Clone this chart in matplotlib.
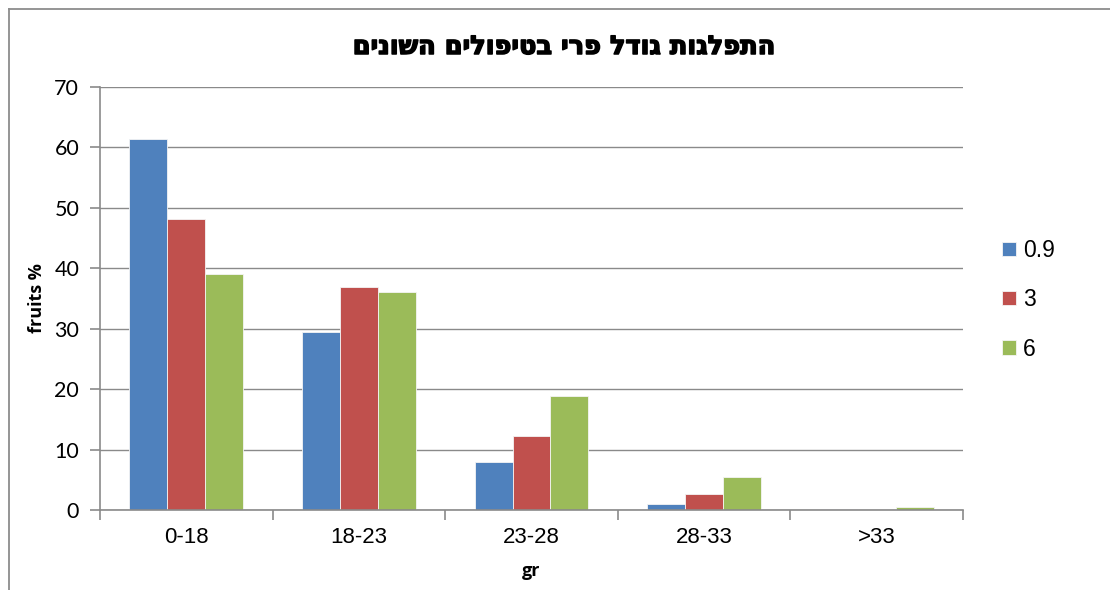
import matplotlib
matplotlib.use("Agg")
import matplotlib.pyplot as plt
import matplotlib.patheffects as pe
import numpy as np
from matplotlib.lines import Line2D

plt.rcParams['font.family'] = ['Liberation Sans', 'DejaVu Sans']

# Data
categories = ["0-18", "18-23", "23-28", "28-33", ">33"]
series_names = ["0.9", "3", "6"]
vals_09 = [61.4, 29.4, 8.0, 1.0, 0.2]
vals_3 = [48.1, 36.9, 12.3, 2.7, 0.0]
vals_6 = [39.1, 36.1, 18.9, 5.4, 0.5]
colors = ["#4F81BD", "#C0504D", "#9BBB59"]
title_text = "התפלגות גודל פרי בטיפולים השונים"
y_ticks = [0, 10, 20, 30, 40, 50, 60, 70]


def rtl(s):
    # matplotlib lays out glyphs left to right; reverse for right-to-left script
    return s[::-1]


fig = plt.figure(figsize=(11.1, 5.9), dpi=100)
ax = fig.add_axes([100 / 1110, 1 - 510 / 590, (963 - 100) / 1110, (510 - 87) / 590])

x = np.arange(len(categories))
width = 0.22
series = [vals_09, vals_3, vals_6]
handles = []
for i, (vals, c, name) in enumerate(zip(series, colors, series_names)):
    b = ax.bar(x + (i - 1) * width, vals, width, color=c, edgecolor="#f4f4f4",
               linewidth=0.6, label=name, zorder=3)
    handles.append(b)

ax.set_xlim(-0.5, len(categories) - 0.5)
ax.set_ylim(0, 70)
ax.set_yticks(y_ticks)
ax.set_xticks(x)
ax.set_xticklabels(categories)
ax.set_xticks(np.arange(-0.5, len(categories)), minor=True)

grid_c = "#8a8a8a"
ax.yaxis.grid(True, color=grid_c, linewidth=1.0, zorder=0)
ax.set_axisbelow(True)
for s in ["top", "right"]:
    ax.spines[s].set_visible(False)
for s in ["left", "bottom"]:
    ax.spines[s].set_color(grid_c)
    ax.spines[s].set_linewidth(1.2)
    ax.spines[s].set_zorder(4)

ax.tick_params(axis="y", direction="out", length=7, width=1.2, color=grid_c,
               pad=8)
for lab in ax.get_yticklabels():
    lab.set_fontfamily(["Lato", "DejaVu Sans"])
    lab.set_fontsize(15.5)
ax.tick_params(axis="x", which="major", length=0, labelsize=16, pad=12)
ax.tick_params(axis="x", which="minor", direction="out", length=7, width=1.2,
               color=grid_c)

ax.set_ylabel("fruits %", fontsize=13, fontweight="bold", labelpad=6,
              family=["Open Sans", "DejaVu Sans"])
ax.set_xlabel("gr", fontsize=13, fontweight="bold", labelpad=10,
              family=["Open Sans", "DejaVu Sans"])

fig.text(565 / 1110, 1 - 47 / 590, rtl(title_text), fontsize=18.5,
         fontweight="bold", ha="center", va="center",
         family=["DejaVu Sans"],
         path_effects=[pe.withStroke(linewidth=1.1, foreground="black")])

leg = ax.legend(handles=handles, labels=series_names, loc="center left",
                bbox_to_anchor=(1.035, 0.497), frameon=False, fontsize=16.5,
                handlelength=0.6, handleheight=0.6, handletextpad=0.3,
                labelspacing=1.15, borderaxespad=0)

# chart area border
border_c = "#8c8c8c"
fig.add_artist(Line2D([8.5 / 1110, 8.5 / 1110], [0, 1 - 8.5 / 590],
                      transform=fig.transFigure, color=border_c, linewidth=1.3))
fig.add_artist(Line2D([8.5 / 1110, 1], [1 - 8.5 / 590, 1 - 8.5 / 590],
                      transform=fig.transFigure, color=border_c, linewidth=1.3))

fig.savefig("out.png", dpi=100, facecolor="white")
